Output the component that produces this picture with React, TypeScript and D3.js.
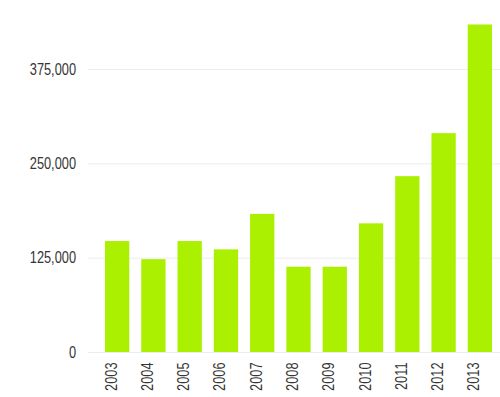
import React, { useEffect, useRef } from 'react';
import * as d3 from 'd3';

// Values
const years = ['2003', '2004', '2005', '2006', '2007', '2008', '2009', '2010', '2011', '2012', '2013'];
const values = [147000, 123000, 147000, 136000, 183000, 113000, 113000, 170500, 233000, 290000, 434000];
const yTicks = [0, 125000, 250000, 375000];

// the reference uses a condensed face; squeeze Liberation Sans horizontally
const FONT = '"Liberation Sans", Arial, sans-serif';
const SQUEEZE = 0.8;

const App: React.FC = () => {
  const svgRef = useRef<SVGSVGElement | null>(null);

  useEffect(() => {
    if (!svgRef.current) return;
    const svg = d3.select(svgRef.current);
    svg.selectAll('*').remove();

    const width = 500;

    const x = d3
      .scaleBand<string>()
      .domain(years)
      .range([99, 498])
      .paddingInner(0.33)
      .paddingOuter(0.165);

    // 0 sits at y=352, 375,000 at y=69
    const y = d3.scaleLinear().domain([0, 375000]).range([352, 69]);

    // grid lines
    svg
      .append('g')
      .selectAll('line')
      .data(yTicks)
      .enter()
      .append('line')
      .attr('x1', 88)
      .attr('x2', width)
      .attr('y1', (d) => y(d) + 0.5)
      .attr('y2', (d) => y(d) + 0.5)
      .attr('stroke', '#ececec')
      .attr('stroke-width', 1);

    // y tick labels
    svg
      .append('g')
      .selectAll('text')
      .data(yTicks)
      .enter()
      .append('text')
      .attr('transform', (d) => `translate(76,${y(d)}) scale(${SQUEEZE},1)`)
      .attr('dy', '0.36em')
      .attr('text-anchor', 'end')
      .attr('font-family', FONT)
      .attr('font-size', '16px')
      .attr('fill', '#353535')
      .text((d) => d3.format(',')(d));

    // bars
    svg
      .append('g')
      .selectAll('rect')
      .data(values)
      .enter()
      .append('rect')
      .attr('x', (_, i) => x(years[i])!)
      .attr('y', (d) => y(d))
      .attr('width', x.bandwidth())
      .attr('height', (d) => y(0) - y(d))
      .attr('fill', '#abf000');

    // rotated year labels
    svg
      .append('g')
      .selectAll('text')
      .data(years)
      .enter()
      .append('text')
      .attr(
        'transform',
        (d) => `translate(${x(d)! + x.bandwidth() / 2 - 0.5},362.5) rotate(-90) scale(${SQUEEZE},1)`
      )
      .attr('text-anchor', 'end')
      .attr('font-family', FONT)
      .attr('font-size', '16px')
      .attr('fill', '#353535')
      .text((d) => d);
  }, []);

  return (
    <svg
      ref={svgRef}
      width={500}
      height={397}
      style={{ position: 'absolute', left: 0, top: 0, background: '#fff' }}
    />
  );
};

export default App;
